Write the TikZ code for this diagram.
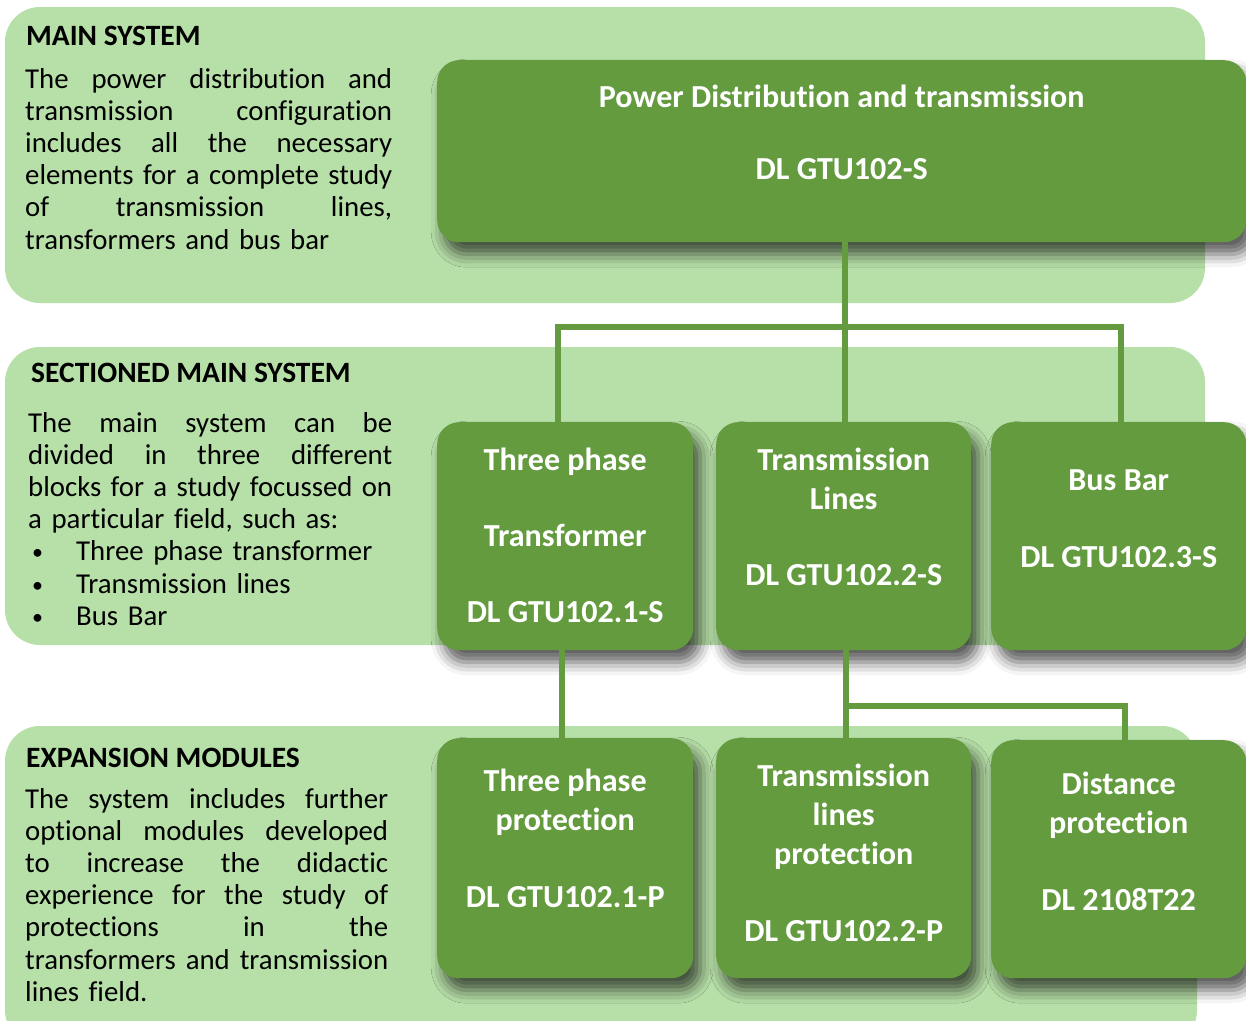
\documentclass[tikz,border=0pt]{standalone}
\usepackage{fontspec}
\setmainfont{Carlito}[Ligatures=NoCommon]
\usetikzlibrary{shadows.blur}
\definecolor{panelgreen}{RGB}{183,223,168}
\definecolor{boxgreen}{RGB}{99,155,62}
\newcommand{\jl}[2][367pt]{\leavevmode\hbox to #1{\spaceskip=\fontdimen2\font plus 1fil\relax #2}}
\newcommand{\bul}{\hspace*{4pt}\makebox[44pt][l]{\raisebox{1pt}{\fontsize{22}{22}\selectfont •}}}
\begin{document}
\begin{tikzpicture}[x=1pt, y=-1pt,
	panel/.style={fill=panelgreen, rounded corners=35pt},
	block/.style={fill=boxgreen, rounded corners=22pt, inner sep=0pt, anchor=north west,
		blur shadow={shadow xshift=7pt, shadow yshift=-12pt, shadow blur radius=13pt, shadow opacity=65}},
	blocktext/.style={text=white, font=\fontsize{32.1}{38.7}\selectfont\bfseries, align=center, anchor=base, inner sep=0pt},
	head/.style={font=\fontsize{29.5}{32}\selectfont\bfseries, anchor=base west, inner sep=0pt},
	body/.style={font=\fontsize{28.8}{32.2}\selectfont, anchor=base west, inner sep=0pt, align=left},
	link/.style={draw=boxgreen, line width=6pt}]
	\useasboundingbox (0,0) rectangle (1246,1020);
	%panels
	\fill[panel] (5,7) rectangle (1205,303);
	\fill[panel] (5,347) rectangle (1205,645);
	\fill[panel] (5,726) rectangle (1197,1045);
	%panel texts
	\node[head] (main-head) at (26,45) {MAIN SYSTEM};
	\node[body, text width=367pt] (main-text) at (25,88)
	{\jl{The power distribution and}\\
		\jl{transmission configuration}\\
		\jl{includes all the necessary}\\
		\jl{elements for a complete study}\\
		\jl{of transmission lines,}\\
		transformers and bus bar};
	\node[head] (sect-head) at (31,382) {SECTIONED MAIN SYSTEM};
	\node[body, text width=364pt] (sect-text) at (28,432)
	{\jl[364pt]{The main system can be}\\
		\jl[364pt]{divided in three different}\\
		\jl[364pt]{blocks for a study focussed on}\\
		a particular field, such as:\\
		\bul Three phase transformer\\
		\bul Transmission lines\\
		\bul Bus Bar};
	\node[head] (exp-head) at (26,767) {EXPANSION MODULES};
	\node[body, text width=363pt] (exp-text) at (25,808)
	{\jl[363pt]{The system includes further}\\
		\jl[363pt]{optional modules developed}\\
		\jl[363pt]{to increase the didactic}\\
		\jl[363pt]{experience for the study of}\\
		\jl[363pt]{protections in the}\\
		\jl[363pt]{transformers and transmission}\\
		lines field.};
	%blocks
	\node[block, minimum width=809pt, minimum height=182pt] (pdt) at (437,60) {};
	\node[block, minimum width=256pt, minimum height=228pt] (tpt) at (437,422) {};
	\node[block, minimum width=255pt, minimum height=228pt] (tl) at (716,422) {};
	\node[block, minimum width=255pt, minimum height=228pt] (bb) at (991,422) {};
	\node[block, minimum width=256pt, minimum height=240pt] (tpp) at (437,738) {};
	\node[block, minimum width=255pt, minimum height=240pt] (tlp) at (716,738) {};
	\node[block, minimum width=255pt, minimum height=238pt] (dp) at (991,740) {};
	%block texts (placed by their last line)
	\node[blocktext] (pdt-t) at (pdt.north |- 0,179) {Power Distribution and transmission\\[33pt]DL GTU102-S};
	\node[blocktext] (tpt-t) at (tpt.north |- 0,622) {Three phase\\[37pt]Transformer\\[37pt]DL GTU102.1-S};
	\node[blocktext] (tl-t) at (tl.north |- 0,585) {Transmission\\Lines\\[37pt]DL GTU102.2-S};
	\node[blocktext] (bb-t) at (bb.north |- 0,567) {Bus Bar\\[38pt]DL GTU102.3-S};
	\node[blocktext] (tpp-t) at (tpp.north |- 0,907) {Three phase\\protection\\[38pt]DL GTU102.1-P};
	\node[blocktext] (tlp-t) at (tlp.north |- 0,941) {Transmission\\lines\\protection\\[38pt]DL GTU102.2-P};
	\node[blocktext] (dp-t) at (dp.north |- 0,910) {Distance\\protection\\[38pt]DL 2108T22};
	%links
	\coordinate (bus1) at (0,327);
	\coordinate (bus2) at (0,706);
	\draw[link] ([xshift=1pt]tl.north) -- ([xshift=1pt]tl.north |- pdt.south);
	\draw[link] ([xshift=-7pt]tpt.north) -- ([xshift=-7pt]tpt.north |- bus1) -| ([xshift=2pt]bb.north);
	\draw[link] ([xshift=-3pt]tpt.south) -- ([xshift=-3pt]tpp.north);
	\draw[link] ([xshift=2pt]tl.south) -- ([xshift=2pt]tlp.north);
	\draw[link] ([xshift=2pt]tl.south |- bus2) -| ([xshift=6pt]dp.north);
\end{tikzpicture}
\end{document}
